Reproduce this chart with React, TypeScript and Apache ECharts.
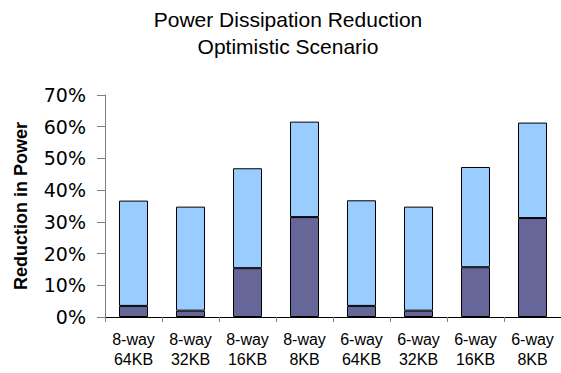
import React, { useEffect, useRef } from "react";
import * as echarts from "echarts";

const categories = [
  "8-way\n64KB",
  "8-way\n32KB",
  "8-way\n16KB",
  "8-way\n8KB",
  "6-way\n64KB",
  "6-way\n32KB",
  "6-way\n16KB",
  "6-way\n8KB",
];
const darkValues = [3.5, 2.0, 15.4, 31.5, 3.5, 2.0, 15.7, 31.2];
const lightValues = [33.2, 32.8, 31.5, 30.1, 33.3, 32.8, 31.6, 30.1];
const yTicks = [0, 10, 20, 30, 40, 50, 60, 70];

export default function App() {
  const ref = useRef<HTMLDivElement>(null);
  useEffect(() => {
    if (!ref.current) return;
    const chart = echarts.init(ref.current, null, { renderer: "svg" });
    chart.setOption({
      animation: false,
      backgroundColor: "#ffffff",
      title: {
        text: "Power Dissipation Reduction\nOptimistic Scenario",
        left: 283,
        top: 1,
        textAlign: "center",
        textStyle: {
          fontFamily: "Liberation Sans, Arial, sans-serif",
          fontSize: 21,
          fontWeight: "normal",
          color: "#000",
          lineHeight: 27,
        },
      },
      grid: { left: 105, top: 95, bottom: 56, width: 462, containLabel: false },
      xAxis: {
        type: "category",
        data: categories,
        axisLine: { lineStyle: { color: "#000", width: 1 } },
        axisTick: { show: true, length: 5, lineStyle: { color: "#808080" } },
        axisLabel: {
          interval: 0,
          margin: 12,
          fontFamily: "Liberation Sans, Arial, sans-serif",
          fontSize: 16,
          lineHeight: 20,
          color: "#000",
        },
      },
      yAxis: {
        type: "value",
        min: yTicks[0],
        max: yTicks[yTicks.length - 1],
        interval: 10,
        name: "Reduction in Power",
        nameLocation: "middle",
        nameRotate: 90,
        nameGap: 75,
        nameTextStyle: {
          fontFamily: "Liberation Sans, Arial, sans-serif",
          fontSize: 18,
          fontWeight: "bold",
          color: "#000",
        },
        axisLine: { show: true, lineStyle: { color: "#808080", width: 1 } },
        axisTick: { show: true, length: 8, lineStyle: { color: "#808080" } },
        splitLine: { show: false },
        axisLabel: {
          margin: 19,
          fontFamily: "DejaVu Sans, Verdana, sans-serif",
          fontSize: 19,
          color: "#000",
          formatter: "{value}%",
        },
      },
      series: [
        {
          type: "bar",
          stack: "total",
          data: darkValues,
          barWidth: 29,
          itemStyle: { color: "#666699", borderColor: "#000", borderWidth: 1 },
        },
        {
          type: "bar",
          stack: "total",
          data: lightValues,
          barWidth: 29,
          itemStyle: { color: "#99ccff", borderColor: "#000", borderWidth: 1 },
        },
      ],
    });
    return () => chart.dispose();
  }, []);
  return (
    <div
      ref={ref}
      style={{ position: "absolute", left: 0, top: 0, width: 561, height: 373 }}
    />
  );
}
